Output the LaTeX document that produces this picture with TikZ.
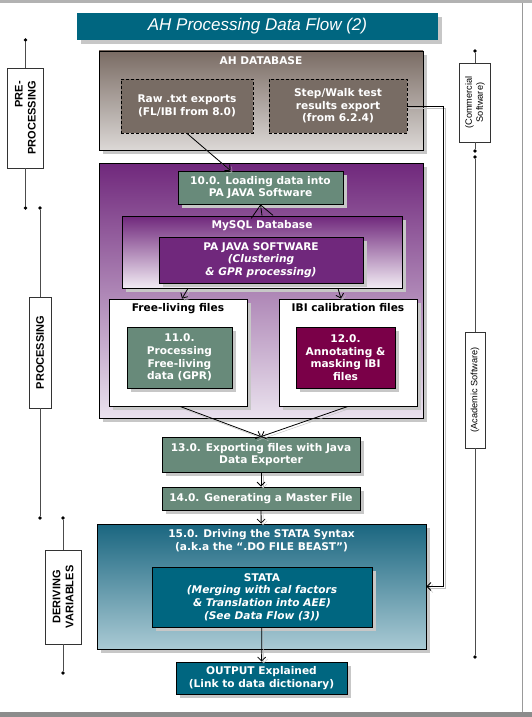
\documentclass[tikz,border=0pt]{standalone}
\usepackage{fontspec}
\setmainfont{DejaVu Sans}
\newfontfamily\arialfont{Liberation Sans}
\usetikzlibrary{arrows.meta,shadows}

\definecolor{flowteal}{RGB}{0,102,128}
\definecolor{tealtop}{RGB}{26,102,128}
\definecolor{teallight}{RGB}{170,202,212}
\definecolor{sage}{RGB}{104,138,122}
\definecolor{plum}{RGB}{112,40,124}
\definecolor{plumlight}{RGB}{234,226,238}
\definecolor{plumpale}{RGB}{242,236,244}
\definecolor{maroon}{RGB}{122,0,72}
\definecolor{rawbrown}{RGB}{120,108,100}
\definecolor{ahtop}{RGB}{122,108,100}
\definecolor{ahbottom}{RGB}{220,216,214}

\tikzset{
  boxshadow/.style={drop shadow={shadow xshift=4pt, shadow yshift=-4pt, fill=black!22, opacity=1}},
  basebox/.style={draw=black, line width=0.8pt, align=center, text=white, inner sep=2pt,
    font=\fontsize{10.6}{12.6}\selectfont\bfseries},
  flowbox/.style={basebox, boxshadow},
  exportbox/.style={basebox, fill=rawbrown, dash pattern=on 3pt off 2pt},
  groupbox/.style={draw=black, line width=0.8pt, boxshadow},
  grouptitle/.style={anchor=north, align=center, inner sep=0pt, text=white,
    font=\fontsize{10.6}{12.6}\selectfont\bfseries},
  titlebar/.style={fill=flowteal, text=white, boxshadow, inner sep=0pt,
    font=\arialfont\itshape\fontsize{17}{20}\selectfont},
  phasebox/.style={draw=black!80, fill=white, line width=0.8pt, rotate=90, inner sep=1pt,
    font=\arialfont\bfseries\fontsize{11}{13}\selectfont},
  softbox/.style={draw=black!80, fill=white, line width=0.8pt, rotate=90, inner sep=1pt, align=center,
    font=\arialfont\fontsize{9.2}{11}\selectfont},
  phaseline/.style={draw=black!70, line width=0.9pt},
  phasedot/.style={circle, fill=black, inner sep=0pt, minimum size=3.8pt},
  flowarrow/.style={-{Straight Barb[length=4pt, width=8pt]}, line width=0.8pt,
    preaction={draw=black!25, transform canvas={xshift=2pt, yshift=-2pt}}},
  openarrow/.style={-{Straight Barb[length=12pt, width=22pt]}, line width=0.8pt},
}

\begin{document}
\begin{tikzpicture}[x=1pt, y=-1pt]
	\useasboundingbox[fill=white] (0,0) rectangle (532,717);
	\fill[black!30] (0,0) rectangle (532,3);
	\fill[black!45] (0,712) rectangle (532,717);
	\draw[black!40, line width=1pt] (522,3) -- (522,712);
	% title
	\node[titlebar, minimum width=361pt, minimum height=27pt] (title) at (257.5,26.5) {AH Processing Data Flow (2)};
	% pre-processing
	\node[groupbox, top color=ahtop, bottom color=ahbottom, minimum width=324pt, minimum height=99pt] (ahdb) at (261,100.5) {};
	\node[grouptitle] (ahdbtitle) at ([yshift=-6pt]ahdb.north) {AH DATABASE};
	\node[exportbox, minimum width=132pt, minimum height=54pt] (raw) at (187,106) {Raw .txt exports\\(FL/IBI from 8.0)};
	\node[exportbox, minimum width=138pt, minimum height=54pt] (stepwalk) at (338,106) {Step/Walk test\\results export\\(from 6.2.4)};
	% processing
	\node[groupbox, top color=plum, bottom color=plumlight, minimum width=324pt, minimum height=255pt] (procarea) at (261,290.5) {};
	\node[flowbox, fill=sage, minimum width=165pt, minimum height=33pt] (load) at (260.5,187.5) {10.0. Loading data into\\PA JAVA Software};
	\node[groupbox, top color=plum, bottom color=plumpale, minimum width=280pt, minimum height=72pt] (mysql) at (262,252) {};
	\node[grouptitle] (mysqltitle) at ([yshift=-5pt]mysql.north) {MySQL Database};
	\node[flowbox, fill=plum, minimum width=204pt, minimum height=46pt] (pajava) at (261,260) {PA JAVA SOFTWARE\\\textit{(Clustering}\\\textit{\& GPR processing)}};
	\node[groupbox, fill=white, minimum width=138pt, minimum height=107pt] (freeliving) at (178,352.5) {};
	\node[grouptitle, text=black] (freetitle) at ([yshift=-5pt]freeliving.north) {Free-living files};
	\node[flowbox, fill=sage, minimum width=105pt, minimum height=61pt] (freeproc) at (179.5,357.5) {11.0.\\Processing\\Free-living\\data (GPR)};
	\node[groupbox, fill=white, minimum width=138pt, minimum height=107pt] (ibi) at (348,352.5) {};
	\node[grouptitle, text=black] (ibititle) at ([yshift=-5pt]ibi.north) {IBI calibration files};
	\node[flowbox, fill=maroon, minimum width=99pt, minimum height=61pt] (annotate) at (345.5,357.5) {12.0.\\Annotating \&\\masking IBI\\files};
	\node[flowbox, fill=sage, minimum width=198pt, minimum height=35pt] (export) at (261,454.5) {13.0. Exporting files with Java\\Data Exporter};
	\node[flowbox, fill=sage, minimum width=198pt, minimum height=23pt] (master) at (261,498.5) {14.0. Generating a Master File};
	% deriving variables
	\node[groupbox, top color=tealtop, bottom color=teallight, minimum width=329pt, minimum height=125pt] (dofile) at (261.5,586.5) {};
	\node[grouptitle] (dotitle) at ([yshift=-6pt]dofile.north) {15.0. Driving the STATA Syntax\\(a.k.a the “.DO FILE BEAST”)};
	\node[flowbox, fill=flowteal, minimum width=220pt, minimum height=60pt] (stata) at (262,597) {STATA\\\textit{(Merging with cal factors}\\\textit{\& Translation into AEE)}\\\textit{(See Data Flow (3))}};
	\node[flowbox, fill=flowteal, minimum width=171pt, minimum height=32pt] (output) at (261.5,678) {OUTPUT Explained\\(Link to data dictionary)};
	% connectors
	\draw[flowarrow] (raw.south) -- ([xshift=-30pt]load.north);
	\draw[openarrow] (mysql.north) -- (load.south);
	\draw[flowarrow] ([xshift=-74pt]mysql.south) -- ([xshift=4pt]freeliving.north);
	\draw[flowarrow] ([xshift=76pt]mysql.south) -- ([xshift=-7pt]ibi.north);
	\draw[flowarrow] ([xshift=2pt]freeliving.south) -- (export.north);
	\draw[flowarrow] (ibi.south) -- (export.north);
	\draw[flowarrow] (export) -- (master);
	\draw[flowarrow] (master) -- (dofile);
	\draw[flowarrow] (stata) -- (output);
	\draw[flowarrow] (stepwalk.east) -- ++(36,0) |- (dofile.east);
	% phase bars on the left
	\node[phasedot] (pretop) at (25.5,40) {};
	\node[phasedot] (prebottom) at (25.5,208) {};
	\node[phasebox, align=right, minimum width=100pt, minimum height=36pt] (prephase) at (25.5,118) {PRE-\\PROCESSING};
	\draw[phaseline] (pretop) -- (prephase);
	\draw[phaseline] (prephase) -- (prebottom);
	\node[phasedot] (proctop) at (40,208) {};
	\node[phasedot] (procbottom) at (40,518) {};
	\node[phasebox, minimum width=111pt, minimum height=22pt] (procphase) at (40,352.5) {PROCESSING};
	\draw[phaseline] (proctop) -- (procphase);
	\draw[phaseline] (procphase) -- (procbottom);
	\node[phasedot] (derivtop) at (63,518) {};
	\node[phasedot] (derivbottom) at (63,673) {};
	\node[phasebox, align=center, minimum width=94pt, minimum height=36pt] (derivphase) at (63,597) {DERIVING\\VARIABLES};
	\draw[phaseline] (derivtop) -- (derivphase);
	\draw[phaseline] (derivphase) -- (derivbottom);
	% software bars on the right
	\node[phasedot] (comtop) at (475,51) {};
	\node[phasedot] (combottom) at (475,151) {};
	\node[softbox, minimum width=79pt, minimum height=31pt] (commercial) at (475,102.5) {(Commercial\\Software)};
	\draw[phaseline] (comtop) -- (commercial);
	\draw[phaseline] (commercial) -- (combottom);
	\node[phasedot] (acatop) at (475,157) {};
	\node[phasedot] (acabottom) at (475,657) {};
	\node[softbox, minimum width=116pt, minimum height=20pt] (academic) at (475,390) {(Academic Software)};
	\draw[phaseline] (acatop) -- (academic);
	\draw[phaseline] (academic) -- (acabottom);
\end{tikzpicture}
\end{document}
